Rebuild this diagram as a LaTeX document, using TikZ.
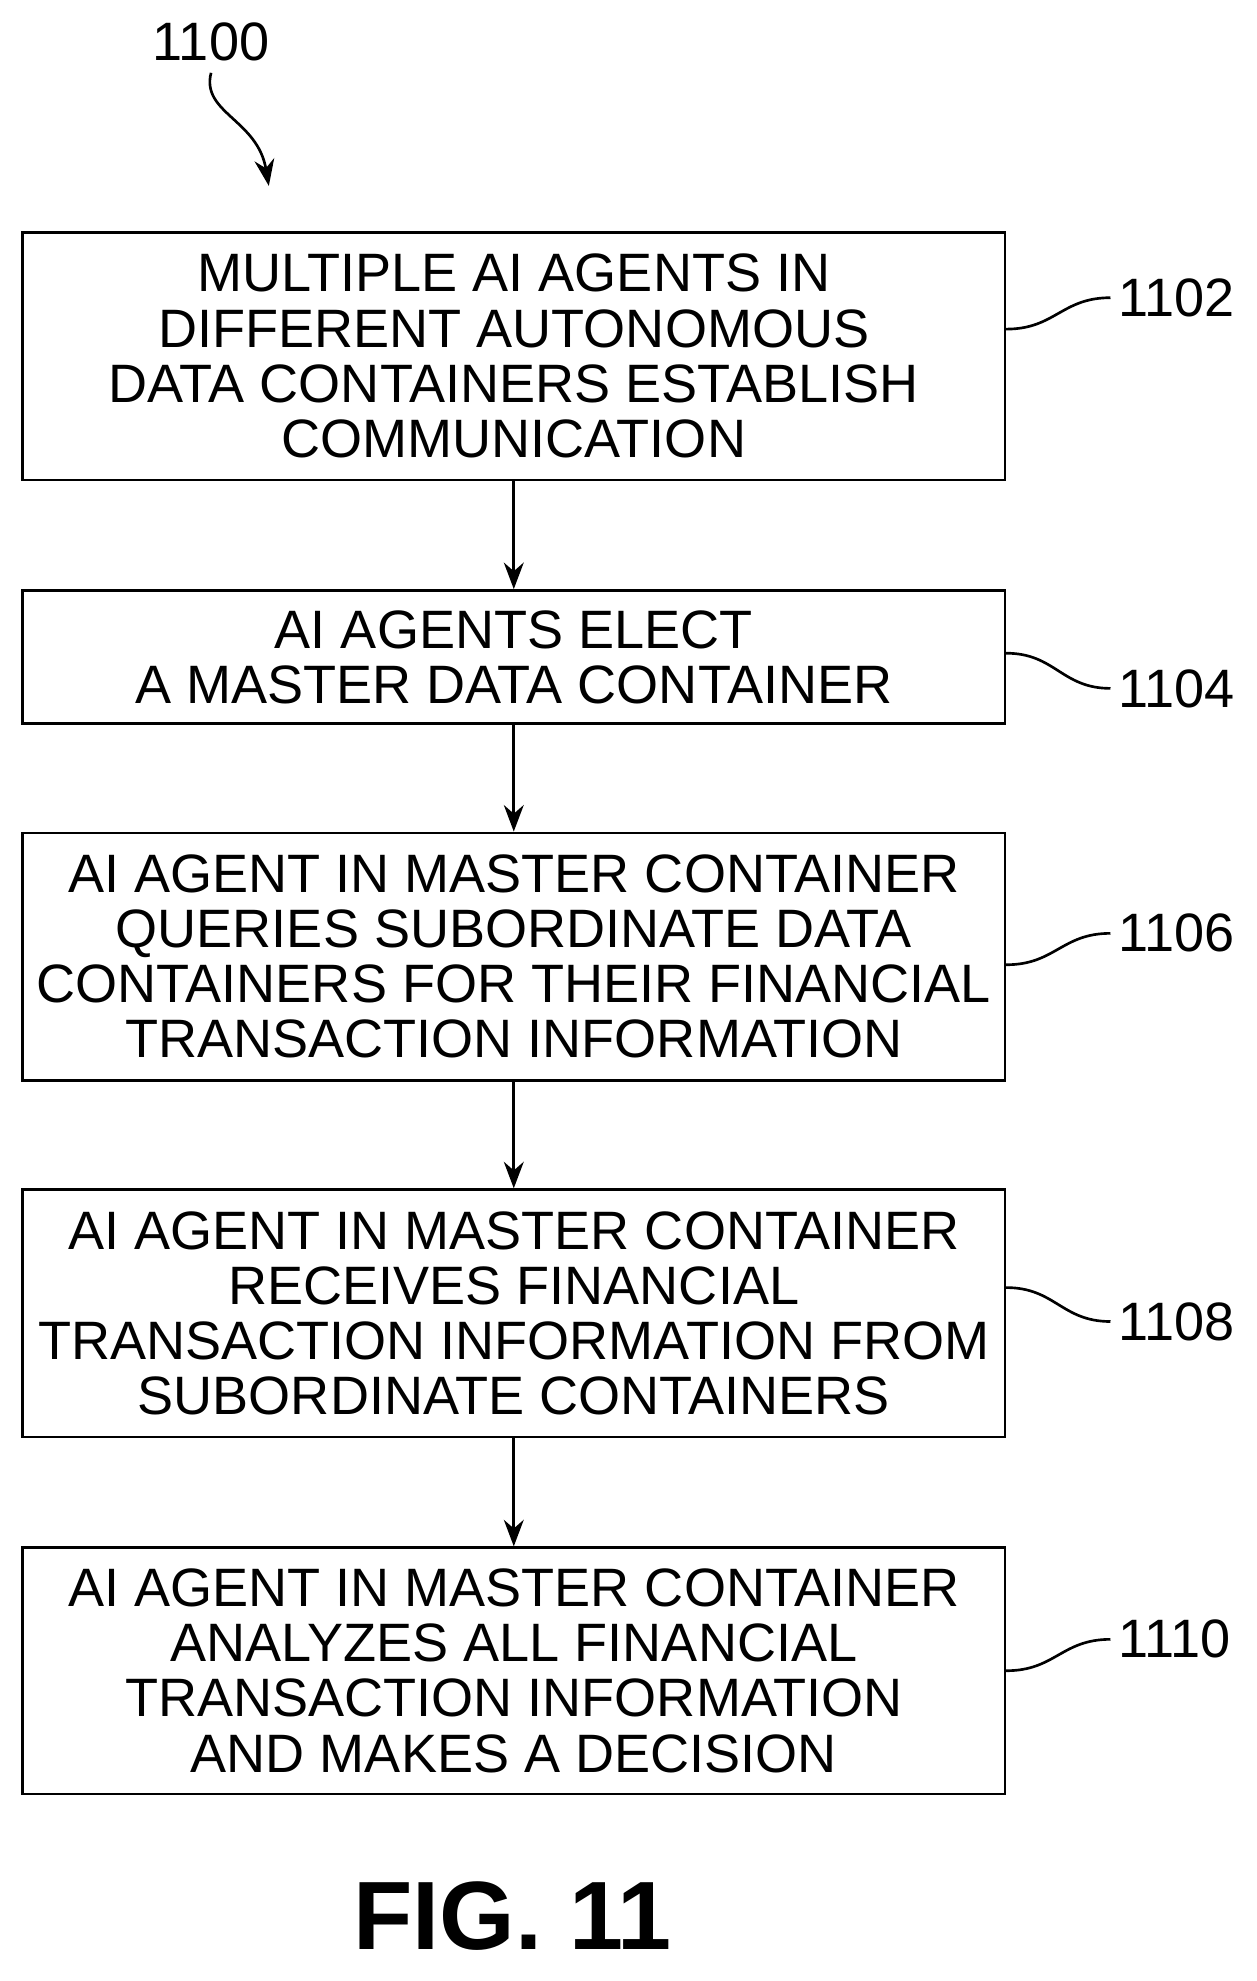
\documentclass[tikz,border=0pt]{standalone}
\usepackage{fontspec}
\setmainfont{Liberation Sans}
\usetikzlibrary{positioning,arrows.meta}
\tikzset{
  stepbox/.style={draw, line width=1.2pt, minimum width=15.64cm, align=center,
    font=\fontsize{24.5}{25}\selectfont, inner sep=0pt},
  lbl/.style={font=\fontsize{24.5}{25}\selectfont, anchor=west},
  lead/.style={line width=1.2pt},
  flow/.style={line width=1.2pt, -{Stealth[length=12pt,width=9pt]}}
}
\begin{document}
\begin{tikzpicture}[x=0.02cm,y=-0.02cm]
\useasboundingbox (0,0) rectangle (1000,1577);
\node[stepbox, minimum height=3.94cm] (s1) at (409,283.5) {MULTIPLE AI AGENTS IN\\DIFFERENT AUTONOMOUS\\DATA CONTAINERS ESTABLISH\\COMMUNICATION};
\node[stepbox, minimum height=2.12cm] (s2) at (409,523) {AI AGENTS ELECT\\A MASTER DATA CONTAINER};
\node[stepbox, minimum height=3.94cm] (s3) at (409,761.5) {AI AGENT IN MASTER CONTAINER\\QUERIES SUBORDINATE DATA\\CONTAINERS FOR THEIR FINANCIAL\\TRANSACTION INFORMATION};
\node[stepbox, minimum height=3.94cm] (s4) at (409,1045.5) {AI AGENT IN MASTER CONTAINER\\RECEIVES FINANCIAL\\TRANSACTION INFORMATION FROM\\SUBORDINATE CONTAINERS};
\node[stepbox, minimum height=3.92cm] (s5) at (409,1330) {AI AGENT IN MASTER CONTAINER\\ANALYZES ALL FINANCIAL\\TRANSACTION INFORMATION\\AND MAKES A DECISION};
% step numbers
\node[lbl] (n1) at (884,237) {1102};
\node[lbl] (n2) at (884,548) {1104};
\node[lbl] (n3) at (884,743) {1106};
\node[lbl] (n4) at (884,1052) {1108};
\node[lbl] (n5) at (884,1305) {1110};
\draw[lead] (s1.east |- 0,262) .. controls (840,262) and (845,237) .. (n1.west);
\draw[lead] (s2.east |- 0,520) .. controls (840,520) and (845,548) .. (n2.west);
\draw[lead] (s3.east |- 0,768) .. controls (840,768) and (845,743) .. (n3.west);
\draw[lead] (s4.east |- 0,1025) .. controls (840,1025) and (845,1052) .. (n4.west);
\draw[lead] (s5.east |- 0,1330) .. controls (840,1330) and (845,1305) .. (n5.west);
% flow
\draw[flow] (s1) -- (s2);
\draw[flow] (s2) -- (s3);
\draw[flow] (s3) -- (s4);
\draw[flow] (s4) -- (s5);
% figure number
\node[font=\fontsize{24.5}{25}\selectfont] (fig) at (168,33) {1100};
\coordinate (tip) at (214,148);
\draw[flow] (168,58) .. controls (160,90) and (205,95) .. (tip);
\node[font=\bfseries\fontsize{44}{44}\selectfont] (cap) at (408,1525) {FIG. 11};
\end{tikzpicture}
\end{document}
